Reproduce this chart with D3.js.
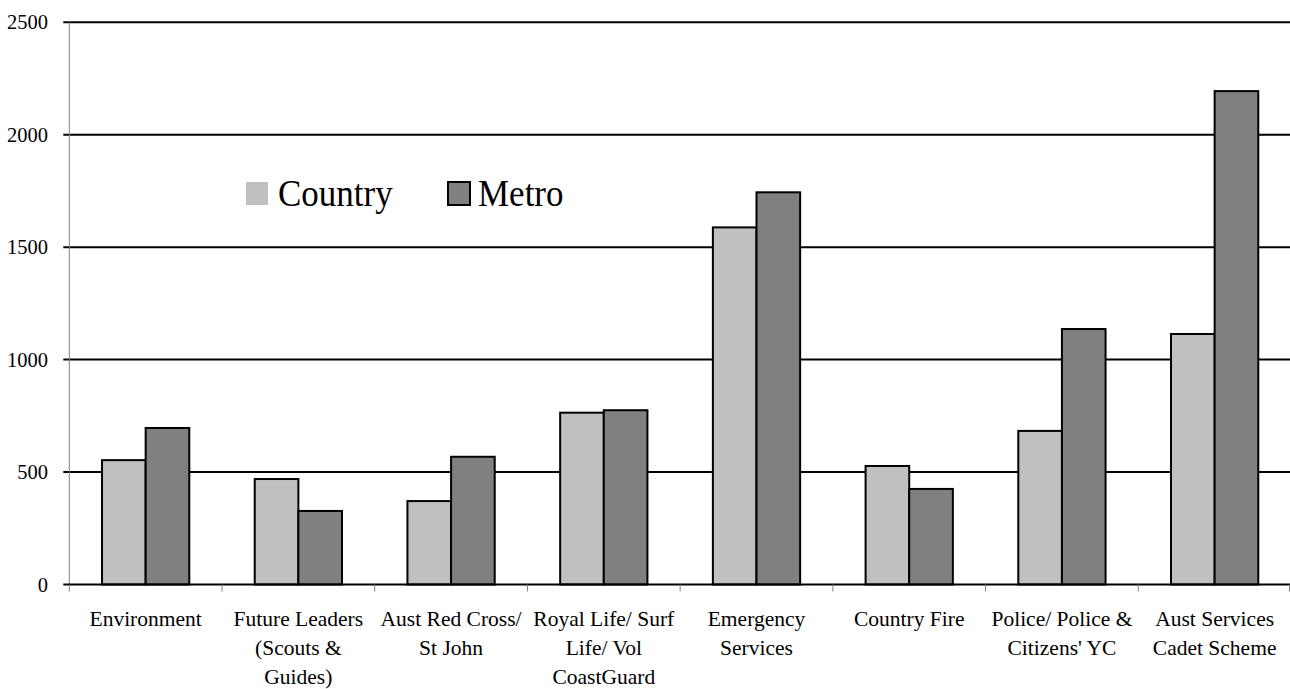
<!DOCTYPE html>
<html>
<head>
<meta charset="utf-8">
<script src="https://cdn.jsdelivr.net/npm/d3@7"></script>
<style>
  html, body { margin: 0; padding: 0; background: #fff; }
  svg { display: block; }
  text { font-family: "Liberation Serif", "Times New Roman", serif; fill: #000; }
</style>
</head>
<body>
<svg id="chart" width="1290" height="689"></svg>
<script>
// Participants by program area, country vs metro
const categories = [
  ["Environment"],
  ["Future Leaders", "(Scouts &", "Guides)"],
  ["Aust Red Cross/", "St John"],
  ["Royal Life/ Surf", "Life/ Vol", "CoastGuard"],
  ["Emergency", "Services"],
  ["Country Fire"],
  ["Police/ Police &", "Citizens' YC"],
  ["Aust Services", "Cadet Scheme"]
];
const seriesNames = ["Country", "Metro"];
const countryValues = [553, 469, 371, 764, 1588, 527, 683, 1114];
const metroValues   = [696, 327, 568, 775, 1744, 425, 1136, 2194];
const yTicks = [0, 500, 1000, 1500, 2000, 2500];

const colors = { Country: "#c0c0c0", Metro: "#808080" };

const svg = d3.select("#chart");
const plotLeft = 69.3, plotRight = 1291, plotTop = 22.3, plotBottom = 584.5;

const keys = categories.map(c => c.join(" "));
const x = d3.scaleBand().domain(keys).range([plotLeft, plotRight]).padding(0);
const xs = d3.scaleBand().domain(seriesNames).range([0, x.bandwidth()])
  .paddingInner(0).paddingOuter(0.75);
const y = d3.scaleLinear().domain([0, 2500]).range([plotBottom, plotTop]);

// horizontal gridlines (extend left as tick marks)
svg.append("g").selectAll("line").data(yTicks.filter(d => d > 0)).join("line")
  .attr("x1", plotLeft - 6).attr("x2", plotRight)
  .attr("y1", d => y(d)).attr("y2", d => y(d))
  .attr("stroke", "#000").attr("stroke-width", 2);

// y tick labels
svg.append("g").selectAll("text").data(yTicks).join("text")
  .attr("x", 48).attr("y", d => y(d)).attr("dy", "0.35em")
  .attr("text-anchor", "end").attr("font-size", 20.5)
  .text(d => d);

// bars
const rows = keys.map((k, i) => ({ key: k, Country: countryValues[i], Metro: metroValues[i] }));
svg.append("g").selectAll("g").data(rows).join("g")
  .attr("transform", d => `translate(${x(d.key)},0)`)
  .selectAll("rect").data(d => seriesNames.map(s => ({ s, v: d[s] }))).join("rect")
  .attr("x", d => xs(d.s)).attr("width", xs.bandwidth())
  .attr("y", d => y(d.v)).attr("height", d => y(0) - y(d.v))
  .attr("fill", d => colors[d.s])
  .attr("stroke", "#000").attr("stroke-width", 2);

// y axis line
svg.append("line").attr("x1", plotLeft).attr("x2", plotLeft).attr("y1", plotTop).attr("y2", plotBottom)
  .attr("stroke", "#808080").attr("stroke-width", 1);

// x axis line + category boundary ticks
svg.append("line").attr("x1", plotLeft - 6).attr("x2", plotRight).attr("y1", plotBottom).attr("y2", plotBottom)
  .attr("stroke", "#000").attr("stroke-width", 2);
const boundaries = keys.map(k => x(k)).concat([plotRight - 1.5]);
svg.append("g").selectAll("line").data(boundaries).join("line")
  .attr("x1", d => d).attr("x2", d => d)
  .attr("y1", plotBottom).attr("y2", plotBottom + 7)
  .attr("stroke", "#808080").attr("stroke-width", 1);

// category labels
const labelG = svg.append("g").selectAll("text").data(categories).join("text")
  .attr("text-anchor", "middle").attr("font-size", 21.5)
  .attr("x", (d, i) => x(keys[i]) + x.bandwidth() / 2)
  .attr("y", 626);
labelG.selectAll("tspan").data(d => d).join("tspan")
  .attr("x", function () { return this.parentNode.getAttribute("x"); })
  .attr("dy", (d, i) => i === 0 ? 0 : 29)
  .text(d => d);

// legend
const legend = [
  { name: "Country", sx: 246, tx: 278, stroke: "none" },
  { name: "Metro", sx: 448, tx: 478, stroke: "#000" }
];
const lg = svg.append("g");
lg.selectAll("rect").data(legend).join("rect")
  .attr("x", d => d.sx).attr("y", 182).attr("width", 22).attr("height", 23)
  .attr("fill", d => colors[d.name])
  .attr("stroke", d => d.stroke).attr("stroke-width", 2);
lg.selectAll("text").data(legend).join("text")
  .attr("transform", d => `translate(${d.tx},206) scale(1,1.1)`)
  .attr("font-size", 35)
  .text(d => d.name);
</script>
</body>
</html>
